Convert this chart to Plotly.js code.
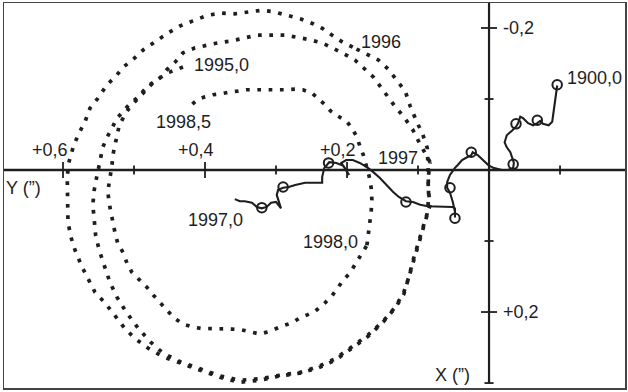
<!DOCTYPE html>
<html><head><meta charset="utf-8">
<script src="https://cdn.plot.ly/plotly-3.0.1.min.js"></script>
<style>html,body{margin:0;padding:0;background:#fff}#chart{width:628px;height:392px}</style>
</head><body><div id="chart"></div>
<script>
// Polar motion. Horizontal axis: Y ("), positive to the left. Vertical axis: X ("), positive downwards.
const spiral1995Y = [0.431,0.452,0.468,0.482,0.494,0.506,0.515,0.524,0.531,0.538,0.544,0.546,0.549,0.552,0.556,0.558,0.556,0.554,0.549,0.542,0.534,0.524,0.511,0.494,0.477,0.459,0.435,0.407,0.379,0.351,0.323,0.294,0.266,0.241,0.217,0.193,0.170,0.149,0.132,0.120,0.113,0.107,0.100,0.093,0.087,0.085,0.085,0.086,0.087,0.094,0.101,0.111,0.118,0.130,0.142,0.156,0.175,0.192];
const spiral1995X = [-0.145,-0.137,-0.127,-0.117,-0.103,-0.093,-0.083,-0.073,-0.059,-0.046,-0.032,-0.020,-0.007,0.007,0.028,0.049,0.070,0.092,0.113,0.134,0.158,0.179,0.200,0.223,0.242,0.258,0.270,0.280,0.290,0.296,0.294,0.289,0.285,0.277,0.266,0.249,0.232,0.213,0.193,0.172,0.151,0.127,0.104,0.082,0.061,0.039,0.018,-0.007,-0.031,-0.052,-0.066,-0.090,-0.111,-0.127,-0.142,-0.155,-0.165,-0.173];

const spiral1996Y = [0.192,0.206,0.217,0.234,0.248,0.266,0.285,0.304,0.320,0.337,0.358,0.376,0.396,0.417,0.435,0.452,0.472,0.486,0.501,0.515,0.524,0.538,0.551,0.562,0.569,0.579,0.586,0.592,0.594,0.594,0.594,0.593,0.589,0.583,0.573,0.565,0.555,0.541,0.527,0.513,0.499,0.480,0.459,0.435,0.407,0.379,0.351,0.323,0.294,0.266,0.241,0.217,0.193,0.170,0.149,0.132,0.120,0.113,0.107,0.100,0.093,0.087,0.083,0.085,0.086,0.083];
const spiral1996X = [-0.173,-0.180,-0.187,-0.199,-0.206,-0.213,-0.218,-0.223,-0.225,-0.223,-0.220,-0.221,-0.218,-0.210,-0.203,-0.193,-0.180,-0.170,-0.156,-0.145,-0.134,-0.120,-0.101,-0.087,-0.068,-0.049,-0.031,-0.010,0.010,0.028,0.054,0.073,0.094,0.113,0.137,0.152,0.172,0.187,0.204,0.223,0.237,0.251,0.263,0.272,0.282,0.292,0.299,0.296,0.290,0.286,0.279,0.268,0.251,0.234,0.214,0.194,0.175,0.152,0.130,0.107,0.085,0.063,0.049,0.032,0.014,-0.011];

const spiral1997Y = [0.083,0.093,0.100,0.107,0.120,0.132,0.142,0.154,0.163,0.177,0.189,0.203,0.220,0.235,0.255,0.270,0.287,0.308,0.327,0.344,0.362,0.382,0.397,0.414,0.431,0.442,0.454,0.463,0.475,0.485,0.496,0.507,0.514,0.521,0.524,0.527,0.530,0.531,0.534,0.537,0.534,0.531,0.527,0.523,0.515,0.510,0.503,0.492,0.482,0.473,0.463,0.454,0.444,0.431,0.418,0.406,0.390,0.376,0.362,0.349,0.335,0.323,0.308,0.292,0.277,0.266,0.256,0.245,0.231,0.221,0.213,0.206,0.196,0.189,0.179,0.172];
const spiral1997X = [-0.011,-0.028,-0.042,-0.056,-0.075,-0.089,-0.103,-0.120,-0.131,-0.144,-0.155,-0.163,-0.172,-0.179,-0.184,-0.187,-0.190,-0.190,-0.190,-0.186,-0.182,-0.179,-0.176,-0.172,-0.165,-0.152,-0.141,-0.130,-0.121,-0.111,-0.099,-0.087,-0.076,-0.062,-0.046,-0.032,-0.020,-0.007,0.010,0.031,0.052,0.070,0.087,0.103,0.117,0.131,0.144,0.155,0.165,0.176,0.187,0.197,0.208,0.217,0.221,0.223,0.223,0.223,0.224,0.225,0.228,0.231,0.227,0.220,0.215,0.208,0.204,0.199,0.187,0.177,0.166,0.156,0.145,0.134,0.117,0.106];

const spiral1998Y = [0.172,0.170,0.168,0.166,0.165,0.166,0.169,0.173,0.177,0.182,0.186,0.193,0.201,0.213,0.223,0.231,0.241,0.249,0.262,0.273,0.285,0.297,0.308,0.320,0.330,0.341,0.354,0.365,0.379,0.389,0.400,0.411,0.421];
const spiral1998X = [0.106,0.092,0.077,0.059,0.042,0.025,0.008,-0.007,-0.021,-0.034,-0.046,-0.059,-0.069,-0.076,-0.083,-0.092,-0.101,-0.108,-0.113,-0.114,-0.113,-0.113,-0.113,-0.113,-0.113,-0.113,-0.111,-0.110,-0.107,-0.106,-0.103,-0.099,-0.090];

// Mean pole path 1900,0 -> 1997,0
const polePathY = [-0.096,-0.094,-0.092,-0.090,-0.089,-0.084,-0.076,-0.072,-0.068,-0.062,-0.055,-0.048,-0.044,-0.041,-0.038,-0.033,-0.025,-0.022,-0.025,-0.030,-0.032,-0.035,-0.034,-0.027,-0.018,-0.006,0.001,0.008,0.016,0.023,0.025,0.031,0.038,0.044,0.048,0.055,0.059,0.059,0.055,0.051,0.048,0.048,0.048,0.052,0.061,0.073,0.086,0.097,0.107,0.117,0.127,0.135,0.144,0.154,0.163,0.172,0.182,0.192,0.201,0.208,0.199,0.197,0.205,0.215,0.225,0.232,0.235,0.235,0.245,0.259,0.273,0.282,0.290,0.297,0.299,0.293,0.300,0.307,0.313,0.320,0.327,0.334,0.344,0.351,0.358];
const polePathX = [-0.119,-0.106,-0.092,-0.077,-0.068,-0.063,-0.065,-0.069,-0.066,-0.063,-0.066,-0.073,-0.075,-0.066,-0.061,-0.056,-0.049,-0.039,-0.032,-0.025,-0.018,-0.010,-0.003,0.000,0.000,-0.003,-0.007,-0.014,-0.021,-0.025,-0.021,-0.018,-0.014,-0.007,-0.003,0.007,0.017,0.025,0.032,0.045,0.059,0.067,0.054,0.052,0.052,0.052,0.051,0.049,0.045,0.044,0.038,0.031,0.021,0.011,0.003,-0.004,-0.010,-0.014,-0.014,-0.010,0.004,0.007,-0.006,-0.010,-0.011,-0.003,0.010,0.018,0.018,0.018,0.021,0.024,0.025,0.028,0.035,0.054,0.045,0.046,0.052,0.054,0.052,0.046,0.044,0.044,0.041];
const poleCircleY = [-0.096,-0.068,-0.038,-0.034,0.025,0.055,0.048,0.117,0.226,0.290,0.320];
const poleCircleX = [-0.120,-0.070,-0.065,-0.008,-0.025,0.025,0.068,0.045,-0.010,0.024,0.053];

// Date labels
const dateLabels = ['1995,0','1996','1997','1998,0','1998,5','1900,0','1997,0'];
const dateLabelY = [0.377,0.152,0.128,0.223,0.430,-0.149,0.385];
const dateLabelX = [-0.148,-0.180,-0.017,0.101,-0.068,-0.130,0.070];

// Axis ticks
const hTickVals = [0.6,0.5,0.4,0.3,0.2,0.1,-0.1];
const hTickLabels = ['+0,6','','+0,4','','+0,2','',''];
const vTickVals = [-0.2,-0.1,0.1,0.2,0.3];
const vTickLabels = ['-0,2','','','+0,2',''];
const axisTitles = ['Y (\u201D)','X (\u201D)'];

const ink = '#1e1e1e';
const xRange = [0.6831, -0.1915];
const yRange = [0.3070, -0.2352];
const pxX = 0.1/70.7, pxY = 0.1/71;

const dotLine = {color: ink, width: 3.7, dash: '3.7px,7.6px'};
const traces = [
  {x: spiral1995Y, y: spiral1995X, mode: 'lines', line: dotLine},
  {x: spiral1996Y, y: spiral1996X, mode: 'lines', line: dotLine},
  {x: spiral1997Y, y: spiral1997X, mode: 'lines', line: dotLine},
  {x: spiral1998Y, y: spiral1998X, mode: 'lines', line: dotLine},
  {x: polePathY, y: polePathX, mode: 'lines', line: {color: ink, width: 2.1}},
  {x: poleCircleY, y: poleCircleX, mode: 'markers',
   marker: {symbol: 'circle-open', size: 9.5, color: ink, line: {width: 2, color: ink}}}
];

const shapes = [
  {type: 'line', xref: 'x', yref: 'y', x0: xRange[0], x1: xRange[1], y0: 0, y1: 0, line: {color: ink, width: 2.6}},
  {type: 'line', xref: 'x', yref: 'y', x0: 0, x1: 0, y0: yRange[1], y1: 0.3, line: {color: ink, width: 2.2}}
];
hTickVals.forEach((v, i) => {
  const h = (hTickLabels[i] ? 8 : 4.5) * pxY;
  shapes.push({type: 'line', xref: 'x', yref: 'y', x0: v, x1: v, y0: -h, y1: h, line: {color: ink, width: 1.8}});
});
vTickVals.forEach((v, i) => {
  const h = (vTickLabels[i] ? 8 : 4.5) * pxX;
  shapes.push({type: 'line', xref: 'x', yref: 'y', x0: -h, x1: h, y0: v, y1: v, line: {color: ink, width: 1.8}});
});

const font = {family: 'Liberation Sans, Arial, sans-serif', size: 18, color: ink};
const annotations = [];
dateLabels.forEach((t, i) => annotations.push({x: dateLabelY[i], y: dateLabelX[i], text: t, showarrow: false, font, xanchor: 'center', yanchor: 'middle'}));
hTickVals.forEach((v, i) => { if (hTickLabels[i]) annotations.push({x: v, y: 0, text: hTickLabels[i], showarrow: false, font, xanchor: 'center', yanchor: 'bottom', xshift: (v === 0.6 ? -13 : -9), yshift: 8}); });
vTickVals.forEach((v, i) => { if (vTickLabels[i]) annotations.push({x: 0, y: v, text: vTickLabels[i], showarrow: false, font, xanchor: 'left', yanchor: 'middle', xshift: 12}); });
annotations.push({x: 0.655, y: 0.025, text: axisTitles[0], showarrow: false, font, xanchor: 'center', yanchor: 'middle'});
annotations.push({x: 0.052, y: 0.289, text: axisTitles[1], showarrow: false, font, xanchor: 'center', yanchor: 'middle'});

const axisBase = {showgrid: false, zeroline: false, showticklabels: false, ticks: '', showline: true, mirror: true, linecolor: '#444', linewidth: 1.5, fixedrange: true};
const layout = {
  width: 628, height: 392,
  margin: {l: 4, r: 3, t: 3, b: 4, pad: 0},
  paper_bgcolor: '#fff', plot_bgcolor: '#fff',
  showlegend: false,
  xaxis: Object.assign({range: xRange}, axisBase),
  yaxis: Object.assign({range: yRange}, axisBase),
  shapes, annotations
};
Plotly.newPlot('chart', traces, layout, {displayModeBar: false, staticPlot: true});
</script>
</body></html>
